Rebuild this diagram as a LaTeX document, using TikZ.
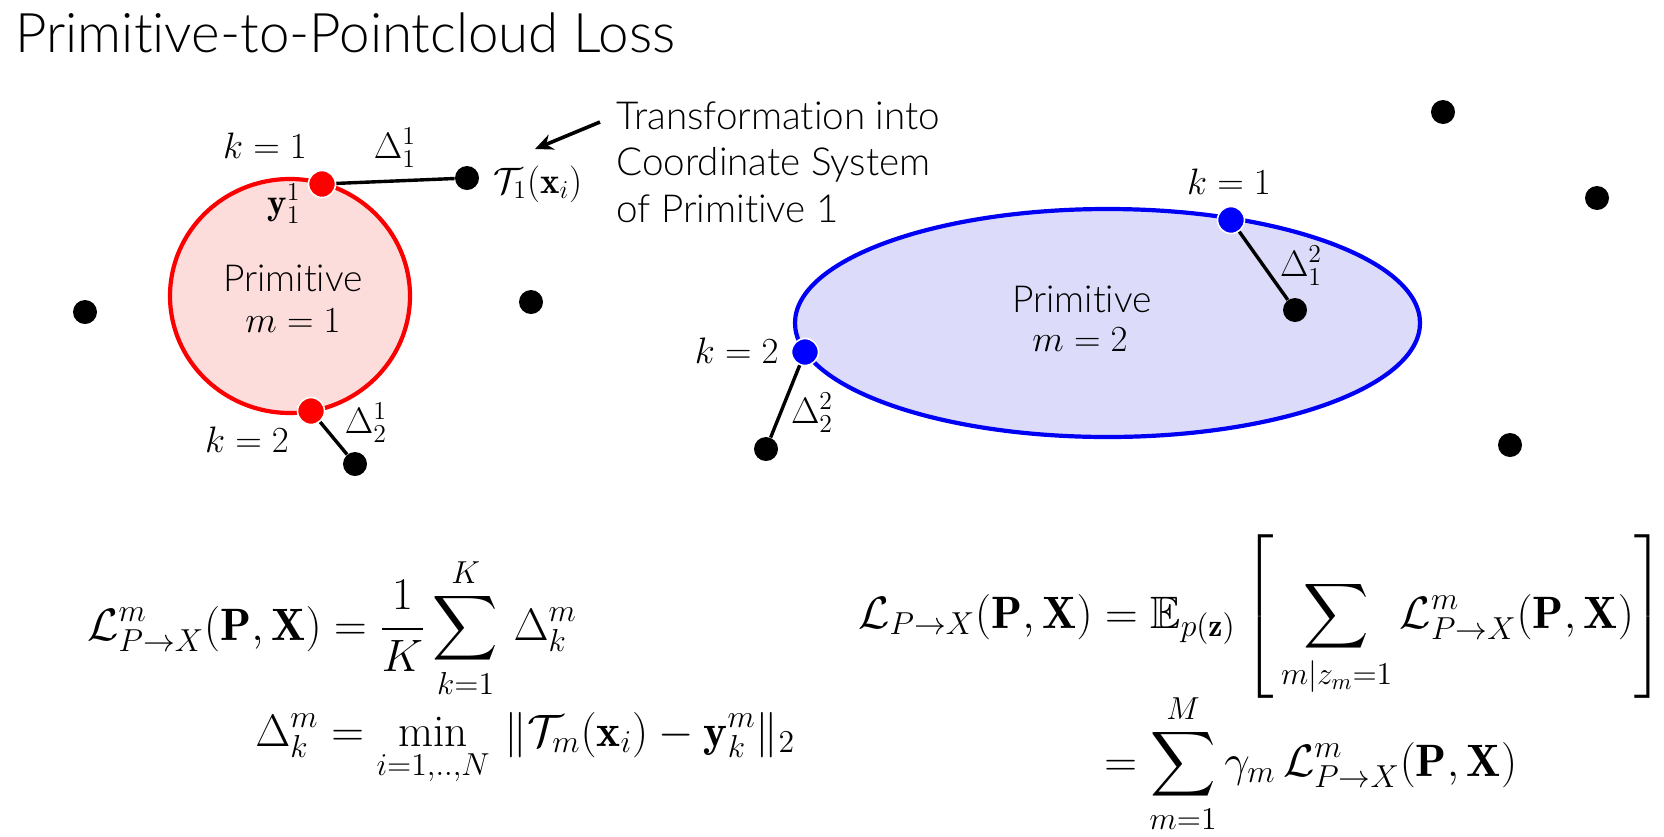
\RequirePackage{fix-cm}
\documentclass[tikz,border=0pt]{standalone}
\usepackage{amsmath,amssymb}
\usepackage{fontspec}
\setsansfont{Lato}[UprightFont={* Light},Ligatures=NoCommon]
\usetikzlibrary{shapes.geometric,arrows.meta}
\definecolor{pinkfill}{RGB}{253,220,220}
\definecolor{redline}{RGB}{250,0,0}
\definecolor{bluefill}{RGB}{220,220,250}
\definecolor{blueline}{RGB}{0,0,245}
\tikzset{
  pt/.style={circle,fill=black,minimum size=12pt,inner sep=0pt},
  rdot/.style={circle,fill=red,draw=white,line width=0.8pt,minimum size=13.5pt,inner sep=0pt},
  bdot/.style={circle,fill=blue,draw=white,line width=0.8pt,minimum size=13.5pt,inner sep=0pt},
  conn/.style={line width=1.7pt,black},
  mlab/.style={inner sep=0pt,font=\fontsize{18.4}{22}\selectfont},
  slab/.style={inner sep=0pt,font=\sffamily\fontsize{18.6}{22}\selectfont},
  formula/.style={inner sep=0pt,font=\fontsize{22.7}{27}\selectfont},
}
\begin{document}
\begin{tikzpicture}[x=0.5pt,y=-0.5pt]
\useasboundingbox (0,0) rectangle (1664,836);
% title
\node[anchor=base west,inner sep=0pt,font=\sffamily\fontsize{27.3}{32}\selectfont] (title) at (15,52) {Primitive-to-Pointcloud Loss};
% primitives
\node[ellipse,draw=redline,fill=pinkfill,line width=2.1pt,minimum width=120pt,minimum height=117pt,inner sep=0pt] (prim1) at (290,296) {};
\node[ellipse,draw=blueline,fill=bluefill,line width=2.1pt,minimum width=312.5pt,minimum height=114pt,inner sep=0pt] (prim2) at (1107.5,323) {};
\node[slab,anchor=base] (prim1t) at (293,291) {Primitive};
\node[mlab,anchor=base] (prim1m) at (293,332) {$m=1$};
\node[slab,anchor=base] (prim2t) at (1082,312) {Primitive};
\node[mlab,anchor=base] (prim2m) at (1080,351) {$m=2$};
% points
\node[pt] (x1) at (467,178) {};
\node[pt] (x2) at (355,464) {};
\node[pt] (x3) at (85,312) {};
\node[pt] (x4) at (531,302) {};
\node[pt] (x5) at (1295,310) {};
\node[pt] (x6) at (766,449) {};
\node[pt] (x7) at (1443,112) {};
\node[pt] (x8) at (1597,198) {};
\node[pt] (x9) at (1510,445) {};
% connectors
\node[rdot] (r1) at (322,184) {};
\node[rdot] (r2) at (311,411) {};
\node[bdot] (b1) at (1231,220) {};
\node[bdot] (b2) at (805,352) {};
\draw[conn] (r1) -- (x1);
\draw[conn] (r2) -- (x2);
\draw[conn] (b1) -- (x5);
\draw[conn] (b2) -- (x6);
% labels
\node[mlab,anchor=base] (k11) at (265,158) {$k=1$};
\node[mlab,anchor=base] (d11) at (395,158) {$\Delta_1^1$};
\node[mlab,anchor=base] (y11) at (284,214) {$\mathbf{y}_1^1$};
\node[mlab,anchor=base west] (T1) at (493,193) {$\mathcal{T}_1(\mathbf{x}_i)$};
\node[mlab,anchor=base] (k12) at (247,452) {$k=2$};
\node[mlab,anchor=base] (d21) at (366,433) {$\Delta_2^1$};
\node[mlab,anchor=base] (k21) at (1229,194) {$k=1$};
\node[mlab,anchor=base] (d12) at (1301,276) {$\Delta_1^2$};
\node[mlab,anchor=base east] (k22) at (779,363) {$k=2$};
\node[mlab,anchor=base] (d22) at (812,423) {$\Delta_2^2$};
% annotation
\node[anchor=north west,align=left,inner sep=0pt,font=\sffamily\fontsize{19.3}{23.3}\selectfont] (note) at (616,101) {Transformation into\\Coordinate System\\of Primitive 1};
\coordinate (arrS) at (600,122);
\coordinate (arrE) at (535,149);
\draw[line width=1.8pt,-{Stealth[length=9pt,width=8pt]}] (arrS) -- (arrE);
% formulas
\node[formula,anchor=base west] (f1) at (87,640) {$\displaystyle \mathcal{L}^m_{P\rightarrow X}(\mathbf{P},\mathbf{X}) = \frac{1}{K}\sum_{k=1}^{K}\,\Delta_k^m$};
\node[formula,anchor=base west] (f2) at (255,746) {$\displaystyle \Delta_k^m = \min_{i=1,..,N}\,\|\mathcal{T}_m(\mathbf{x}_i)-\mathbf{y}_k^m\|_2$};
\node[formula,anchor=base west] (f3) at (858,628) {$\displaystyle \mathcal{L}_{P\rightarrow X}(\mathbf{P},\mathbf{X}) = \mathbb{E}_{p(\mathbf{z})}\left[\,\sum_{m|z_m=1}\mathcal{L}^m_{P\rightarrow X}(\mathbf{P},\mathbf{X})\right]$};
\node[formula,anchor=base west] (f4) at (1104,776) {$\displaystyle = \sum_{m=1}^{M}\gamma_m\,\mathcal{L}^m_{P\rightarrow X}(\mathbf{P},\mathbf{X})$};
\end{tikzpicture}
\end{document}
